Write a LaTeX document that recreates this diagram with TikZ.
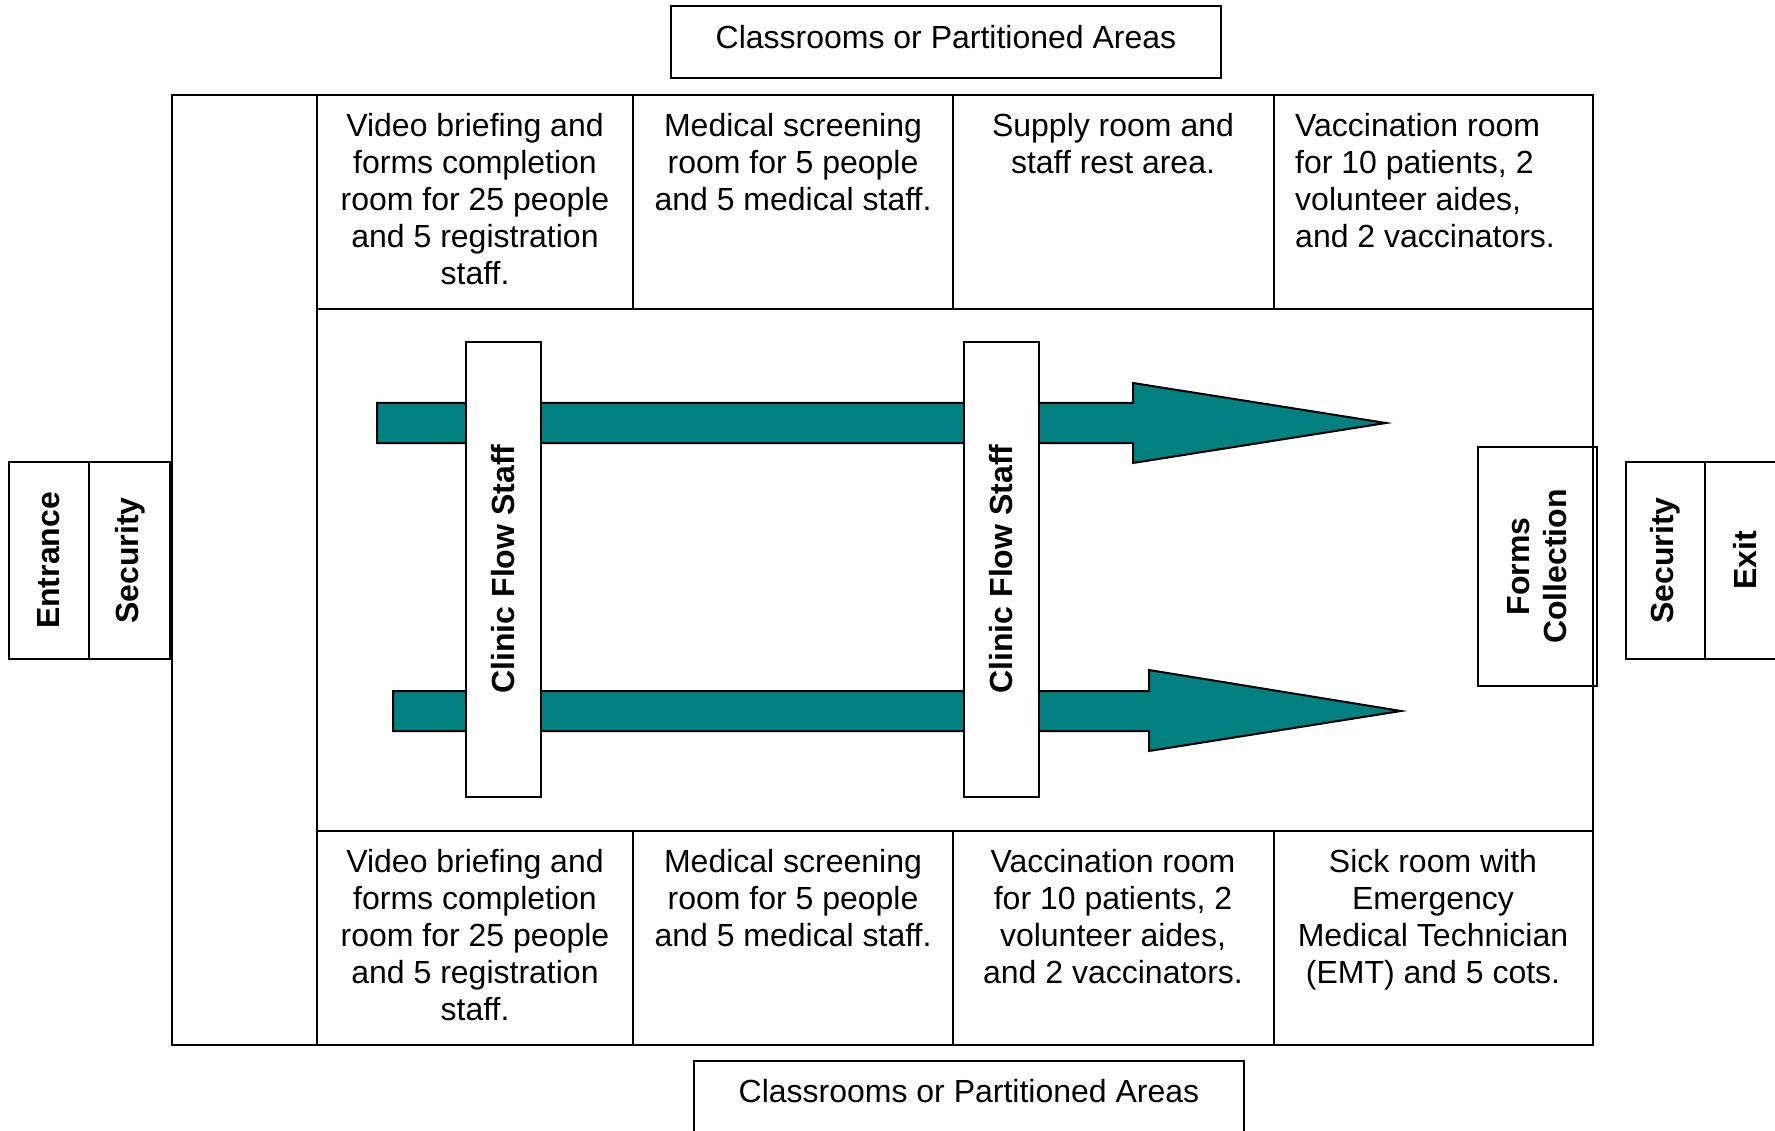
\documentclass[tikz,border=0pt]{standalone}
\usepackage{fontspec}
\setmainfont{Liberation Sans}
\definecolor{flowteal}{RGB}{0,128,128}
\tikzset{
  wall/.style={draw=black, line width=2pt},
  roomtext/.style={font=\fontsize{32}{37}\selectfont, align=center, anchor=north, inner sep=0pt},
  roomtextleft/.style={font=\fontsize{32}{37}\selectfont, align=left, anchor=north west, inner sep=0pt},
  boldrot/.style={font=\bfseries\fontsize{32}{37}\selectfont, align=center, rotate=90, inner sep=0pt},
  flowarrow/.style={fill=flowteal, draw=black, line width=2pt, line join=miter},
  staffbox/.style={draw=black, fill=white, line width=2pt}
}
\begin{document}
\begin{tikzpicture}[x=1pt,y=-1pt]
\useasboundingbox (0,0) rectangle (1775,1131);
\clip (0,0) rectangle (1775,1131);
\fill[white] (0,0) rectangle (1775,1131);

% top classroom box
\draw[wall] (671,6) rectangle (1221,78);
\node[font=\fontsize{32}{37}\selectfont, inner sep=0pt] (topclass) at (946,37) {Classrooms or Partitioned Areas};

% bottom classroom box
\draw[wall] (694,1061) rectangle (1244,1140);
\node[font=\fontsize{32}{37}\selectfont, inner sep=0pt] (botclass) at (969,1091) {Classrooms or Partitioned Areas};

% main building
\draw[wall] (172,95) rectangle (1593,1045);
\draw[wall] (317,95) -- (317,1045);
\draw[wall] (317,309) -- (1593,309);
\draw[wall] (317,831) -- (1593,831);
\foreach \xx in {633,953,1274} {
  \draw[wall] (\xx,95) -- (\xx,309);
  \draw[wall] (\xx,831) -- (\xx,1045);
}

% top row texts
\node[roomtext] (t1) at (475,113) {Video briefing and\\forms completion\\room for 25 people\\and 5 registration\\staff.};
\node[roomtext] (t2) at (793,113) {Medical screening\\room for 5 people\\and 5 medical staff.};
\node[roomtext] (t3) at (1113,113) {Supply room and\\staff rest area.};
\node[roomtextleft] (t4) at (1295,113) {Vaccination room\\for 10 patients, 2\\volunteer aides,\\and 2 vaccinators.};

% bottom row texts
\node[roomtext] (b1) at (475,849) {Video briefing and\\forms completion\\room for 25 people\\and 5 registration\\staff.};
\node[roomtext] (b2) at (793,849) {Medical screening\\room for 5 people\\and 5 medical staff.};
\node[roomtext] (b3) at (1113,849) {Vaccination room\\for 10 patients, 2\\volunteer aides,\\and 2 vaccinators.};
\node[roomtext] (b4) at (1433,849) {Sick room with\\Emergency\\Medical Technician\\(EMT) and 5 cots.};

% flow arrows
\draw[flowarrow] (377,403) -- (1133,403) -- (1133,383) -- (1386,423) -- (1133,463) -- (1133,443) -- (377,443) -- cycle;
\draw[flowarrow] (393,691) -- (1149,691) -- (1149,670) -- (1401,711) -- (1149,751) -- (1149,731) -- (393,731) -- cycle;

% clinic flow staff boxes
\draw[staffbox] (466,342) rectangle (541,797);
\node[boldrot] (cfs1) at (503.5,569) {Clinic Flow Staff};
\draw[staffbox] (964,342) rectangle (1039,797);
\node[boldrot] (cfs2) at (1001.5,569) {Clinic Flow Staff};

% forms collection
\draw[wall] (1478,447) rectangle (1597,686);
\node[boldrot] (forms) at (1537.5,566.5) {Forms\\Collection};

% entrance / security left
\draw[wall] (9,462) rectangle (170,659);
\draw[wall] (89,462) -- (89,659);
\node[boldrot] (entrance) at (49,560.5) {Entrance};
\node[boldrot] (secl) at (130,560.5) {Security};

% security / exit right
\draw[wall] (1626,462) rectangle (1786,659);
\draw[wall] (1705,462) -- (1705,659);
\node[boldrot] (secr) at (1665.5,560.5) {Security};
\node[boldrot] (exit) at (1745,560.5) {Exit};
\end{tikzpicture}
\end{document}
